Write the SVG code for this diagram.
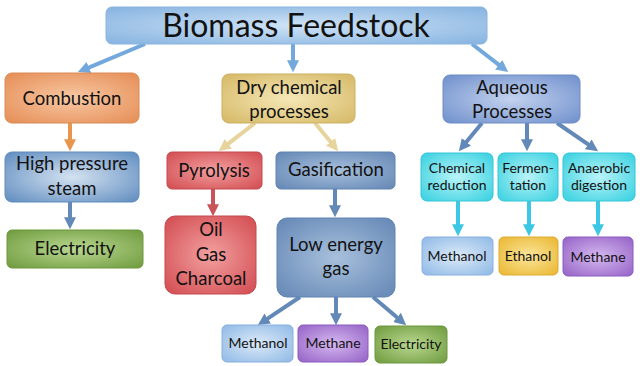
<svg xmlns="http://www.w3.org/2000/svg" width="640" height="366" viewBox="0 0 640 366">
<defs>
<style>
text{font-family:Lato,"Open Sans","Liberation Sans",sans-serif;fill:#121212;text-anchor:middle}
.t30{font-size:32px}
.t18{font-size:18.5px}
.t17{font-size:17.5px}
.t14{font-size:14px}
.box{stroke-width:1}
.ar{fill:none;stroke-width:4}
</style>
<radialGradient id="gBlue" cx="0.5" cy="0.5" r="0.7"><stop offset="0" stop-color="#cfe3f6"/><stop offset="1" stop-color="#86b3e0"/></radialGradient>
<radialGradient id="gOrange" cx="0.5" cy="0.5" r="0.7"><stop offset="0" stop-color="#f8c8a4"/><stop offset="1" stop-color="#e58d55"/></radialGradient>
<radialGradient id="gTan" cx="0.5" cy="0.5" r="0.7"><stop offset="0" stop-color="#f5e7b6"/><stop offset="1" stop-color="#d5b865"/></radialGradient>
<radialGradient id="gAq" cx="0.5" cy="0.5" r="0.7"><stop offset="0" stop-color="#c3d2ee"/><stop offset="1" stop-color="#6f8fcc"/></radialGradient>
<radialGradient id="gSteel" cx="0.5" cy="0.5" r="0.7"><stop offset="0" stop-color="#d4e2f1"/><stop offset="1" stop-color="#5f8cbf"/></radialGradient>
<radialGradient id="gSteel2" cx="0.5" cy="0.5" r="0.7"><stop offset="0" stop-color="#a8c0dc"/><stop offset="1" stop-color="#6487b5"/></radialGradient>
<radialGradient id="gGreen" cx="0.5" cy="0.5" r="0.7"><stop offset="0" stop-color="#b9d890"/><stop offset="1" stop-color="#6f9a3e"/></radialGradient>
<radialGradient id="gRed" cx="0.5" cy="0.5" r="0.7"><stop offset="0" stop-color="#f2a0a0"/><stop offset="1" stop-color="#d24b50"/></radialGradient>
<radialGradient id="gCyan" cx="0.5" cy="0.5" r="0.7"><stop offset="0" stop-color="#b8f4f8"/><stop offset="1" stop-color="#36d0e0"/></radialGradient>
<radialGradient id="gLBlue" cx="0.5" cy="0.5" r="0.7"><stop offset="0" stop-color="#dceaf8"/><stop offset="1" stop-color="#8fb9e6"/></radialGradient>
<radialGradient id="gGold" cx="0.5" cy="0.5" r="0.7"><stop offset="0" stop-color="#fae69a"/><stop offset="1" stop-color="#eab630"/></radialGradient>
<radialGradient id="gPurple" cx="0.5" cy="0.5" r="0.7"><stop offset="0" stop-color="#d6b8f0"/><stop offset="1" stop-color="#9462c6"/></radialGradient>
<marker id="mBlue" viewBox="0 0 10 10" refX="4" refY="5" markerWidth="3" markerHeight="3" orient="auto"><path d="M0,0 L10,5 L0,10 z" fill="#72a8dc"/></marker>
<marker id="mOrange" viewBox="0 0 10 10" refX="4" refY="5" markerWidth="3" markerHeight="3" orient="auto"><path d="M0,0 L10,5 L0,10 z" fill="#e8964e"/></marker>
<marker id="mSteel" viewBox="0 0 10 10" refX="4" refY="5" markerWidth="3" markerHeight="3" orient="auto"><path d="M0,0 L10,5 L0,10 z" fill="#6389b8"/></marker>
<marker id="mBeige" viewBox="0 0 10 10" refX="4" refY="5" markerWidth="3" markerHeight="3" orient="auto"><path d="M0,0 L10,5 L0,10 z" fill="#e6d49c"/></marker>
<marker id="mRed" viewBox="0 0 10 10" refX="4" refY="5" markerWidth="3" markerHeight="3" orient="auto"><path d="M0,0 L10,5 L0,10 z" fill="#c8545a"/></marker>
<marker id="mCyan" viewBox="0 0 10 10" refX="4" refY="5" markerWidth="3" markerHeight="3" orient="auto"><path d="M0,0 L10,5 L0,10 z" fill="#3cc8e4"/></marker>
</defs>
<rect width="640" height="366" fill="#ffffff"/>

<g id="connectors">
<line class="ar" stroke="#72a8dc" marker-end="url(#mBlue)" x1="145" y1="44" x2="84.5" y2="69.3"/>
<line class="ar" stroke="#72a8dc" marker-end="url(#mBlue)" x1="293" y1="44" x2="293" y2="65"/>
<line class="ar" stroke="#72a8dc" marker-end="url(#mBlue)" x1="472" y1="44" x2="502.5" y2="67.7"/>
<line class="ar" stroke="#e8964e" marker-end="url(#mOrange)" x1="70" y1="123" x2="70" y2="144"/>
<line class="ar" stroke="#6389b8" marker-end="url(#mSteel)" x1="70" y1="202" x2="70" y2="222"/>
<line class="ar" stroke="#e6d49c" marker-end="url(#mBeige)" x1="255" y1="123" x2="224.5" y2="146.7"/>
<line class="ar" stroke="#e6d49c" marker-end="url(#mBeige)" x1="315" y1="123" x2="333.6" y2="145.6"/>
<line class="ar" stroke="#c8545a" marker-end="url(#mRed)" x1="213" y1="189" x2="213" y2="209"/>
<line class="ar" stroke="#6389b8" marker-end="url(#mSteel)" x1="335" y1="189" x2="335" y2="210"/>
<line class="ar" stroke="#6389b8" marker-end="url(#mSteel)" x1="300" y1="297" x2="263.8" y2="321.1"/>
<line class="ar" stroke="#6389b8" marker-end="url(#mSteel)" x1="336" y1="297" x2="336" y2="318"/>
<line class="ar" stroke="#6389b8" marker-end="url(#mSteel)" x1="373" y1="297" x2="400.7" y2="320.5"/>
<line class="ar" stroke="#6389b8" marker-end="url(#mSteel)" x1="482" y1="123" x2="463.4" y2="145.6"/>
<line class="ar" stroke="#6389b8" marker-end="url(#mSteel)" x1="527" y1="123" x2="527" y2="144"/>
<line class="ar" stroke="#6389b8" marker-end="url(#mSteel)" x1="557" y1="123" x2="592.2" y2="147.1"/>
<line class="ar" stroke="#3cc8e4" marker-end="url(#mCyan)" x1="458" y1="201" x2="458" y2="229"/>
<line class="ar" stroke="#3cc8e4" marker-end="url(#mCyan)" x1="529" y1="201" x2="529" y2="229"/>
<line class="ar" stroke="#3cc8e4" marker-end="url(#mCyan)" x1="598" y1="201" x2="598" y2="229"/>
</g>

<g id="biomass"><rect class="box" x="106" y="7" width="381" height="37" rx="6" fill="url(#gBlue)" stroke="#8ab4df"/><text class="t30" x="296" y="37">Biomass Feedstock</text></g>

<g id="combustion"><rect class="box" x="5" y="73" width="134" height="50" rx="7" fill="url(#gOrange)" stroke="#d98a55"/><text class="t18" x="72" y="105">Combustion</text></g>
<g id="dry"><rect class="box" x="222" y="74" width="133" height="49" rx="7" fill="url(#gTan)" stroke="#cbb062"/><text class="t18" x="289" y="94">Dry chemical</text><text class="t18" x="289" y="118">processes</text></g>
<g id="aqueous"><rect class="box" x="443" y="75" width="137" height="48" rx="7" fill="url(#gAq)" stroke="#6d8cc6"/><text class="t18" x="512" y="94">Aqueous</text><text class="t18" x="512" y="118">Processes</text></g>

<g id="highpressure"><rect class="box" x="5" y="152" width="134" height="50" rx="7" fill="url(#gSteel)" stroke="#5f8bbd"/><text class="t18" x="72" y="170">High pressure</text><text class="t18" x="72" y="195">steam</text></g>
<g id="electricity1"><rect class="box" x="7" y="230" width="136" height="38" rx="5" fill="url(#gGreen)" stroke="#6d983e"/><text class="t18" x="75" y="255">Electricity</text></g>

<g id="pyrolysis"><rect class="box" x="167" y="152" width="95" height="37" rx="5" fill="url(#gRed)" stroke="#c24a50"/><text class="t18" x="214" y="177">Pyrolysis</text></g>
<g id="oilgas"><rect class="box" x="165" y="216" width="91" height="78" rx="10" fill="url(#gRed)" stroke="#c24a50"/><text class="t18" x="211" y="236">Oil</text><text class="t18" x="211" y="261">Gas</text><text class="t18" x="211" y="285">Charcoal</text></g>

<g id="gasification"><rect class="box" x="276" y="152" width="119" height="37" rx="5" fill="url(#gSteel2)" stroke="#5f84b2"/><text class="t18" x="336" y="176">Gasification</text></g>
<g id="lowenergy"><rect class="box" x="277" y="218" width="118" height="79" rx="10" fill="url(#gSteel2)" stroke="#5f84b2"/><text class="t18" x="336" y="251">Low energy</text><text class="t18" x="336" y="275">gas</text></g>

<g id="methanol2"><rect class="box" x="222" y="325" width="71" height="37" rx="5" fill="url(#gLBlue)" stroke="#86b0de"/><text class="t14" x="258" y="348">Methanol</text></g>
<g id="methane2"><rect class="box" x="298" y="325" width="70" height="37" rx="5" fill="url(#gPurple)" stroke="#8a5ac0"/><text class="t14" x="333" y="348">Methane</text></g>
<g id="electricity2"><rect class="box" x="375" y="326" width="72" height="37" rx="5" fill="url(#gGreen)" stroke="#6d983e"/><text class="t14" x="411" y="349">Electricity</text></g>

<g id="chemred"><rect class="box" x="421" y="153" width="72" height="48" rx="6" fill="url(#gCyan)" stroke="#34c4d8"/><text class="t14" x="457" y="173">Chemical</text><text class="t14" x="457" y="190">reduction</text></g>
<g id="fermentation"><rect class="box" x="498" y="153" width="60" height="48" rx="6" fill="url(#gCyan)" stroke="#34c4d8"/><text class="t14" x="528" y="173">Fermen-</text><text class="t14" x="528" y="190">tation</text></g>
<g id="anaerobic"><rect class="box" x="563" y="153" width="72" height="48" rx="6" fill="url(#gCyan)" stroke="#34c4d8"/><text class="t14" x="599" y="173">Anaerobic</text><text class="t14" x="599" y="190">digestion</text></g>

<g id="methanol1"><rect class="box" x="422" y="237" width="71" height="38" rx="5" fill="url(#gLBlue)" stroke="#86b0de"/><text class="t14" x="457" y="261">Methanol</text></g>
<g id="ethanol"><rect class="box" x="499" y="237" width="59" height="38" rx="5" fill="url(#gGold)" stroke="#dcaa30"/><text class="t14" x="528" y="261">Ethanol</text></g>
<g id="methane1"><rect class="box" x="563" y="237" width="70" height="39" rx="5" fill="url(#gPurple)" stroke="#8a5ac0"/><text class="t14" x="598" y="262">Methane</text></g>
</svg>
